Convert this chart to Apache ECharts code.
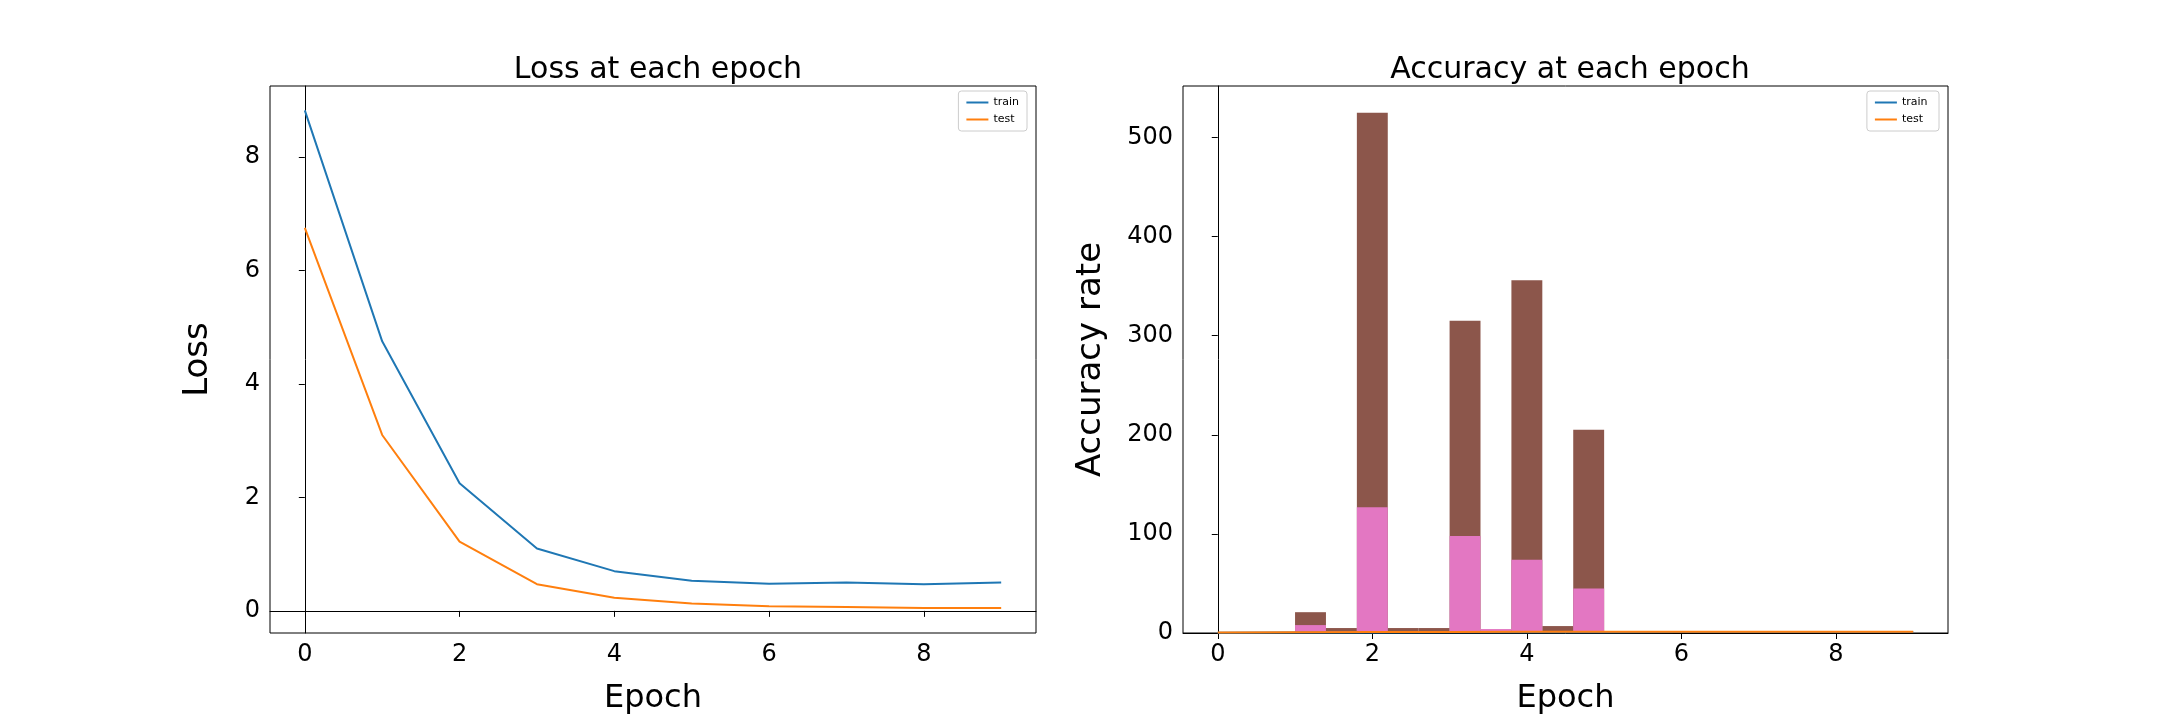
<!DOCTYPE html>
<html>
<head>
<meta charset="utf-8">
<script src="https://cdn.jsdelivr.net/npm/echarts@6/dist/echarts.min.js"></script>
<style>html,body{margin:0;background:#fff}#c{width:2160px;height:720px}</style>
</head>
<body>
<div id="c"></div>
<script>
// values
const epochs = [0, 1, 2, 3, 4, 5, 6, 7, 8, 9];
const lossTrain = [8.82, 4.75, 2.25, 1.1, 0.7, 0.53, 0.48, 0.5, 0.47, 0.5];
const lossTest = [6.75, 3.1, 1.22, 0.47, 0.23, 0.13, 0.08, 0.07, 0.05, 0.05];
const accTrain = [0.3, 0.5, 0.6, 0.7, 0.8, 0.85, 0.9, 0.9, 0.9, 0.9];
const accTest = [0.5, 0.8, 1.0, 1.1, 1.2, 1.3, 1.3, 1.3, 1.3, 1.3];
// histogram bins: [start, end, count]
const histBrown = [[1.0, 1.4, 21], [1.4, 1.8, 5], [1.8, 2.2, 525], [2.2, 2.6, 5], [2.6, 3.0, 5],
  [3.0, 3.4, 315], [3.4, 3.8, 3], [3.8, 4.2, 356], [4.2, 4.6, 7], [4.6, 5.0, 205]];
const histPink = [[1.0, 1.4, 8], [1.4, 1.8, 2], [1.8, 2.2, 127], [2.2, 2.6, 2], [2.6, 3.0, 2],
  [3.0, 3.4, 98], [3.4, 3.8, 4], [3.8, 4.2, 74], [4.2, 4.6, 2], [4.6, 5.0, 45]];
const xTicks = [0, 2, 4, 6, 8];
const lossTicks = [0, 2, 4, 6, 8];
const accTicks = [0, 100, 200, 300, 400, 500];

const font = "DejaVu Sans";
const tickFont = { fontFamily: font, fontSize: 24, color: "#000" };

function xAxis(gi) {
  return {
    type: "value", gridIndex: gi, min: -0.45, max: 9.45,
    name: "Epoch", nameLocation: "middle", nameGap: 50,
    nameTextStyle: { fontFamily: font, fontSize: 32, color: "#000" },
    axisLine: { lineStyle: { color: "#000" } },
    axisTick: { show: true, length: 6, inside: false, customValues: xTicks, lineStyle: { color: "#000" } },
    axisLabel: Object.assign({ customValues: xTicks, margin: 10 }, tickFont),
    splitLine: { show: false },
  };
}
function yAxis(gi, min, max, ticks, name, gap) {
  return {
    type: "value", gridIndex: gi, min: min, max: max,
    name: name, nameLocation: "middle", nameGap: gap,
    nameTextStyle: { fontFamily: font, fontSize: 34, color: "#000" },
    axisLine: { show: true, lineStyle: { color: "#000" } },
    axisTick: { show: true, length: 6, customValues: ticks, lineStyle: { color: "#000" } },
    axisLabel: Object.assign({ customValues: ticks, margin: 10 }, tickFont),
    splitLine: { show: false },
  };
}
function bars(data, color) {
  return {
    type: "custom", xAxisIndex: 1, yAxisIndex: 1, data: data, z: 1,
    renderItem: function (params, api) {
      const p0 = api.coord([api.value(0), 0]);
      const p1 = api.coord([api.value(1), api.value(2)]);
      return { type: "rect", shape: { x: p0[0], y: p1[1], width: p1[0] - p0[0], height: p0[1] - p1[1] }, style: { fill: color } };
    },
  };
}
function line(name, xi, vals, color) {
  return {
    name: name, type: "line", xAxisIndex: xi, yAxisIndex: xi, z: 3,
    data: epochs.map((e, i) => [e, vals[i]]), showSymbol: false,
    lineStyle: { color: color, width: 2 }, itemStyle: { color: color },
  };
}
const legendBase = {
  orient: "vertical", itemWidth: 22, itemHeight: 2, itemGap: 6, padding: [6, 8],
  backgroundColor: "#fff", borderColor: "#ccc", borderWidth: 1, borderRadius: 3,
  textStyle: { fontFamily: font, fontSize: 11, color: "#000" }, icon: "rect",
};

const chart = echarts.init(document.getElementById("c"));
chart.setOption({
  animation: false,
  title: [
    { text: "Loss at each epoch", left: 653, top: 50, textAlign: "center", textStyle: { fontFamily: font, fontSize: 30, fontWeight: "normal", color: "#000" } },
    { text: "Accuracy at each epoch", left: 1565, top: 50, textAlign: "center", textStyle: { fontFamily: font, fontSize: 30, fontWeight: "normal", color: "#000" } },
  ],
  legend: [
    Object.assign({ data: ["train", "test"], right: 2160 - 1027, top: 91 }, legendBase),
    Object.assign({ data: ["train ", "test "], right: 2160 - 1939, top: 91 }, legendBase),
  ],
  grid: [
    { left: 270, width: 766, top: 86, height: 547, show: true, borderColor: "#000", borderWidth: 1 },
    { left: 1183, width: 765, top: 86, height: 547, show: true, borderColor: "#000", borderWidth: 1 },
  ],
  xAxis: [xAxis(0), xAxis(1)],
  yAxis: [yAxis(0, -0.39, 9.25, lossTicks, "Loss", 55), yAxis(1, 0, 552, accTicks, "Accuracy rate", 75)],
  series: [
    line("train", 0, lossTrain, "#1f77b4"),
    line("test", 0, lossTest, "#ff7f0e"),
    bars(histBrown, "#8c564b"),
    bars(histPink, "#e377c2"),
    line("train ", 1, accTrain, "#1f77b4"),
    line("test ", 1, accTest, "#ff7f0e"),
  ],
});
</script>
</body>
</html>
